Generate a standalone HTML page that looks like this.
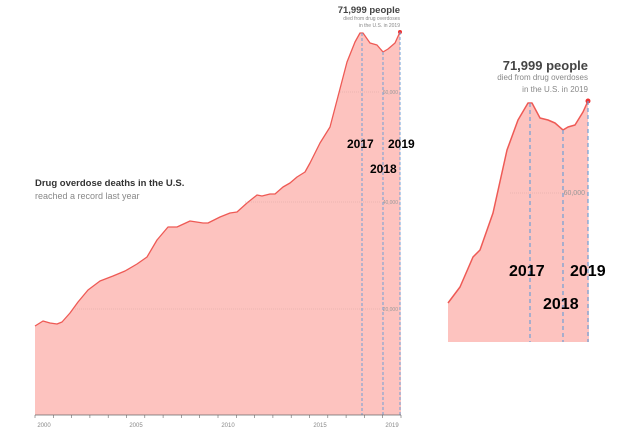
<!DOCTYPE html>
<html><head><style>body{margin:0;background:#fff}svg{display:block}</style></head><body>
<svg width="626" height="437" xmlns="http://www.w3.org/2000/svg" font-family="Liberation Sans, sans-serif">
<rect width="626" height="437" fill="#fff"/>
<path d="M35,326 L43,321 L50,323 L57,324 L62,322 L70,313 L78,302 L88,290 L100,281 L113,276 L125,271 L137,264 L147,257 L157,240 L168,227 L177,227 L190,221 L203,223 L208,223 L220,217 L230,213 L237,212 L247,203 L257,195 L262,196 L270,194 L275,194 L283,187 L290,183 L297,177 L305,172 L310,163 L320,143 L330,127 L347,62 L355,42 L360,33 L363,33 L370,43 L377,45 L383,52 L388,49 L395,43 L400,32 L401,415 L35,415 Z" fill="#fdc3bf"/>
<path d="M35,326 L43,321 L50,323 L57,324 L62,322 L70,313 L78,302 L88,290 L100,281 L113,276 L125,271 L137,264 L147,257 L157,240 L168,227 L177,227 L190,221 L203,223 L208,223 L220,217 L230,213 L237,212 L247,203 L257,195 L262,196 L270,194 L275,194 L283,187 L290,183 L297,177 L305,172 L310,163 L320,143 L330,127 L347,62 L355,42 L360,33 L363,33 L370,43 L377,45 L383,52 L388,49 L395,43 L400,32" fill="none" stroke="#ee5a55" stroke-width="1.3" stroke-linejoin="round"/>
<circle cx="400" cy="32" r="2" fill="#e33"/>
<g stroke="#d9a6a3" stroke-width="0.6" stroke-dasharray="1,1"><line x1="75" y1="309" x2="380" y2="309"/><line x1="245" y1="202" x2="380" y2="202"/><line x1="340" y1="92" x2="380" y2="92"/></g>
<g font-size="5" fill="#999" text-anchor="end"><text x="398" y="311">20,000</text><text x="398" y="204">40,000</text><text x="398" y="94">60,000</text></g>
<g stroke="#6f9fd6" stroke-width="1" stroke-dasharray="3,2"><line x1="362" y1="33" x2="362" y2="415"/><line x1="383" y1="52" x2="383" y2="415"/><line x1="400" y1="32" x2="400" y2="415"/></g>
<line x1="35" y1="415" x2="401" y2="415" stroke="#666" stroke-width="0.8"/>
<g stroke="#666" stroke-width="0.6">
<line x1="35" y1="415" x2="35" y2="418"/><line x1="53.3" y1="415" x2="53.3" y2="418"/><line x1="71.6" y1="415" x2="71.6" y2="418"/><line x1="89.9" y1="415" x2="89.9" y2="418"/><line x1="108.2" y1="415" x2="108.2" y2="418"/><line x1="126.5" y1="415" x2="126.5" y2="418"/><line x1="144.8" y1="415" x2="144.8" y2="418"/><line x1="163.1" y1="415" x2="163.1" y2="418"/><line x1="181.4" y1="415" x2="181.4" y2="418"/><line x1="199.7" y1="415" x2="199.7" y2="418"/><line x1="218" y1="415" x2="218" y2="418"/><line x1="236.3" y1="415" x2="236.3" y2="418"/><line x1="254.6" y1="415" x2="254.6" y2="418"/><line x1="272.9" y1="415" x2="272.9" y2="418"/><line x1="291.2" y1="415" x2="291.2" y2="418"/><line x1="309.5" y1="415" x2="309.5" y2="418"/><line x1="327.8" y1="415" x2="327.8" y2="418"/><line x1="346.1" y1="415" x2="346.1" y2="418"/><line x1="364.4" y1="415" x2="364.4" y2="418"/><line x1="382.7" y1="415" x2="382.7" y2="418"/><line x1="401" y1="415" x2="401" y2="418"/>
</g>
<g font-size="6" fill="#888" text-anchor="middle"><text x="44" y="427">2000</text><text x="136" y="427">2005</text><text x="228" y="427">2010</text><text x="320" y="427">2015</text><text x="392" y="427">2019</text></g>
<text x="35" y="186" font-size="9.5" font-weight="bold" fill="#333">Drug overdose deaths in the U.S.</text>
<text x="35" y="199" font-size="9" fill="#888">reached a record last year</text>
<text x="400" y="13" font-size="9.5" font-weight="bold" fill="#444" text-anchor="end">71,999 people</text>
<text x="400" y="20" font-size="5" fill="#888" text-anchor="end">died from drug overdoses</text>
<text x="400" y="27" font-size="5" fill="#888" text-anchor="end">in the U.S. in 2019</text>
<g font-size="12" font-weight="bold" fill="#000"><text x="347" y="148">2017</text><text x="388" y="148">2019</text><text x="370" y="173">2018</text></g>
<!-- inset -->
<path d="M448,303 L460,287 L473,257 L480,250 L493,213 L507,150 L518,120 L528,103 L532,103 L540,118 L548,120 L555,123 L563,130 L568,127 L575,125 L583,112 L588,101 L589,342 L448,342 Z" fill="#fdc3bf"/>
<path d="M448,303 L460,287 L473,257 L480,250 L493,213 L507,150 L518,120 L528,103 L532,103 L540,118 L548,120 L555,123 L563,130 L568,127 L575,125 L583,112 L588,101" fill="none" stroke="#ee5a55" stroke-width="1.5" stroke-linejoin="round"/>
<circle cx="588" cy="101" r="2.5" fill="#e33"/>
<line x1="510" y1="193" x2="580" y2="193" stroke="#d9a6a3" stroke-width="0.6" stroke-dasharray="1,1"/>
<text x="585" y="195" font-size="7" fill="#999" text-anchor="end">60,000</text>
<g stroke="#6f9fd6" stroke-width="1.2" stroke-dasharray="4,3"><line x1="530" y1="103" x2="530" y2="342"/><line x1="563" y1="130" x2="563" y2="342"/><line x1="588" y1="101" x2="588" y2="342"/></g>
<text x="588" y="70" font-size="13" font-weight="bold" fill="#444" text-anchor="end">71,999 people</text>
<text x="588" y="80" font-size="8" fill="#888" text-anchor="end">died from drug overdoses</text>
<text x="588" y="92" font-size="8" fill="#888" text-anchor="end">in the U.S. in 2019</text>
<g font-size="16" font-weight="bold" fill="#000"><text x="509" y="276">2017</text><text x="570" y="276">2019</text><text x="543" y="309">2018</text></g>
</svg>
</body></html>
